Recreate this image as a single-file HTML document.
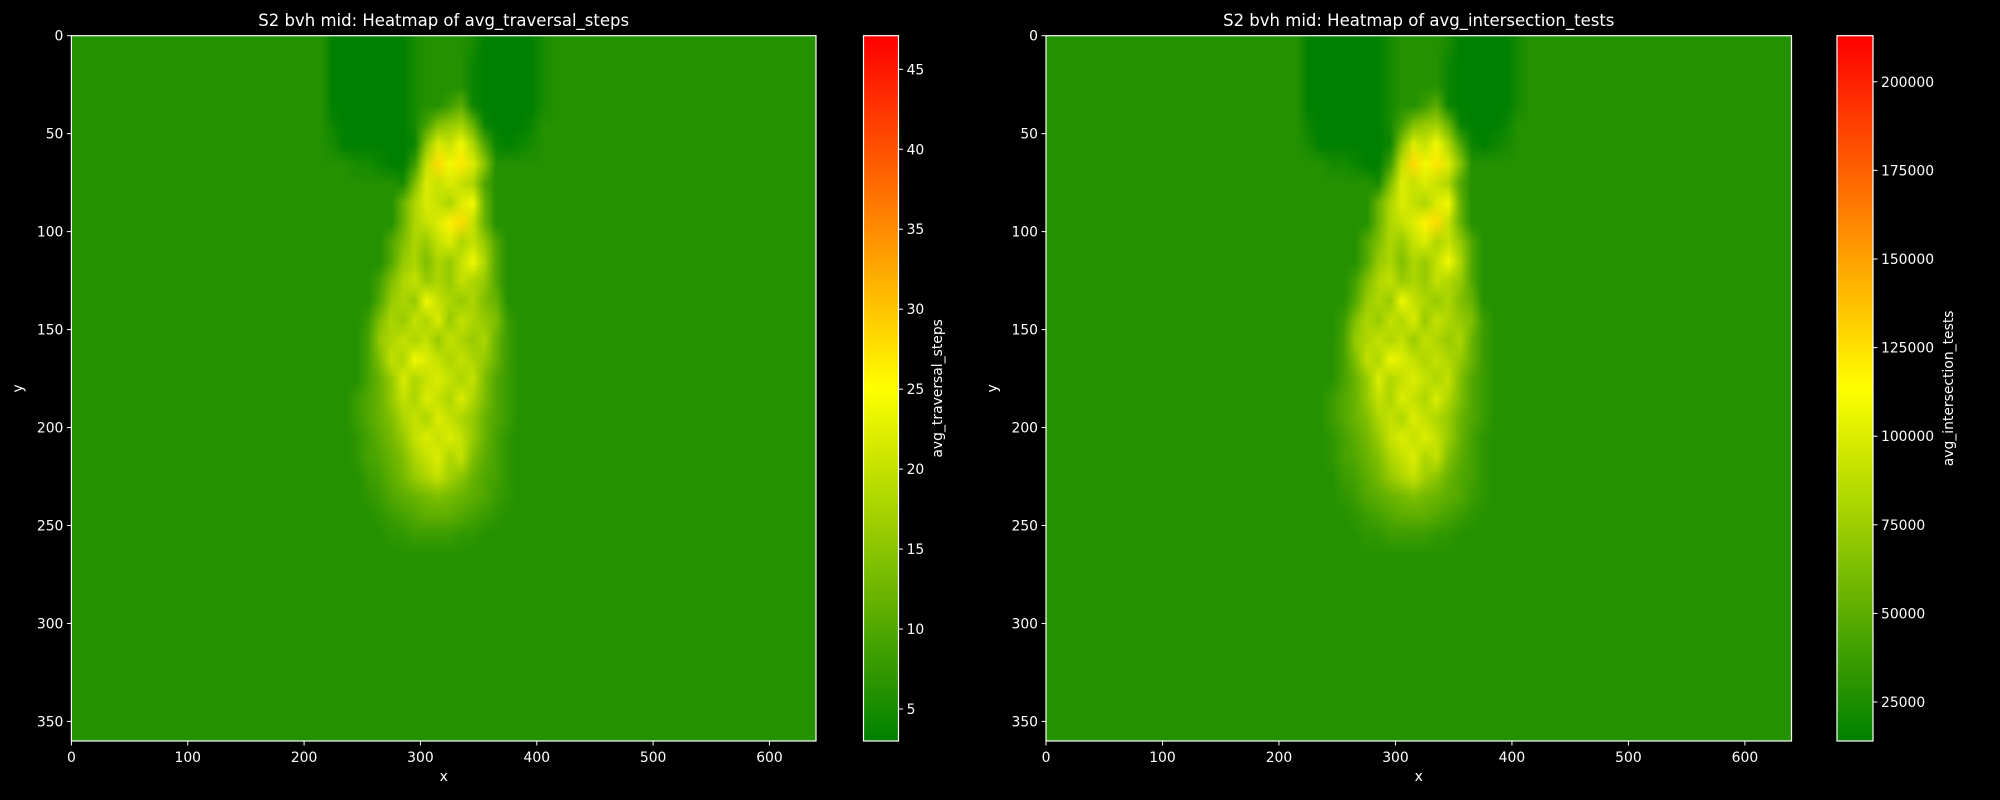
<!DOCTYPE html>
<html><head><meta charset="utf-8">
<style>
html,body{margin:0;padding:0;background:#000;}
#wrap{position:relative;width:2000px;height:800px;background:#000;overflow:hidden;font-family:"DejaVu Sans","Liberation Sans",sans-serif;}
canvas{position:absolute;}
svg{position:absolute;left:0;top:0;}
</style></head>
<body>
<div id="wrap">
<canvas id="hm1"></canvas>
<canvas id="cb1"></canvas>
<canvas id="hm2"></canvas>
<canvas id="cb2"></canvas>
<svg id="ov" width="2000" height="800"></svg>
</div>
<script>
// ---- data ----
const xTicks = [0,100,200,300,400,500,600];
const yTicks = [0,50,100,150,200,250,300,350];
const cbTicks1 = [5,10,15,20,25,30,35,40,45];
const cbTicks2 = [25000,50000,75000,100000,125000,150000,175000,200000];
const range1 = [3, 47.1];
const range2 = [14000, 213000];
const background1 = 6;
const background2k = 28; // thousands
// grid: columns start at x=210, 10-unit cells; rows start at y=0, 10-unit cells
const gridX0 = 210, gridY0 = 0, gridCell = 10;
const steps = [
[6,3,3,3,3,3,3,3,5,6,6,6,6,5,3,3,3,3,3,5],
[6,3,3,3,3,3,3,3,5,6,6,6,6,4,3,3,3,3,3,5],
[6,3,3,3,3,3,3,3,5,6,6,6,6,4,3,3,3,3,3,5],
[6,3,3,3,3,3,3,3,5,6,6,8,11,4,3,3,3,3,3,5],
[6,4,3,3,3,3,3,3,5,9,14,16,17,12,4,3,3,3,4,6],
[6,5,3,3,3,3,3,3,4,15,22,20,24,18,10,4,3,4,5,6],
[6,6,6,5,5,4,3,3,8,20,28,24,27,22,15,6,6,6,6,6],
[6,6,6,6,6,6,6,5,14,22,20,22,20,18,10,6,6,6,6,6],
[6,6,6,6,6,6,6,12,18,22,20,18,22,24,12,6,6,6,6,6],
[6,6,6,6,6,6,6,12,18,20,22,26,28,20,12,6,6,6,6,6],
[6,6,6,6,6,6,10,14,18,16,20,22,18,20,16,10,6,6,6,6],
[6,6,6,6,6,6,10,16,18,14,18,16,20,24,18,10,6,6,6,6],
[6,6,6,6,6,9,14,18,20,16,18,16,20,18,16,10,6,6,6,6],
[6,6,6,6,6,10,16,18,16,24,20,18,16,18,14,12,6,6,6,6],
[6,6,6,6,8,14,18,16,20,18,22,16,20,18,16,14,8,6,6,6],
[6,6,6,6,9,16,18,20,18,20,16,20,18,16,18,12,8,6,6,6],
[6,6,6,6,9,14,20,18,24,22,20,18,20,18,16,12,8,6,6,6],
[6,6,6,6,9,12,16,22,18,20,22,20,18,20,14,10,8,6,6,6],
[6,6,6,8,10,12,16,20,18,22,20,18,22,18,14,10,8,6,6,6],
[6,6,6,8,10,12,14,18,20,18,22,20,18,16,12,10,8,6,6,6],
[6,6,6,7,9,11,13,16,20,22,20,22,20,16,12,9,7,6,6,6],
[6,6,6,7,9,10,12,14,18,20,22,18,20,14,11,9,7,6,6,6],
[6,6,6,6,8,9,11,13,16,18,20,17,15,12,10,9,7,6,6,6],
[6,6,6,6,7,8,10,11,12,13,14,13,12,11,10,8,7,6,6,6],
[6,6,6,6,6,7,8,9,10,11,11,11,10,9,8,7,6,6,6,6],
[6,6,6,6,6,6,7,7,8,8,8,8,7,7,6,6,6,6,6,6]
];
// intersection tests, in thousands
const testsK = [
[28,14,14,14,14,14,14,14,23,28,28,28,28,23,14,14,14,14,14,23],
[28,14,14,14,14,14,14,14,23,28,28,28,28,19,14,14,14,14,14,23],
[28,14,14,14,14,14,14,14,23,28,28,28,28,19,14,14,14,14,14,23],
[28,14,14,14,14,14,14,14,23,28,28,37,50,19,14,14,14,14,14,23],
[28,19,14,14,14,14,14,14,23,41,64,73,77,55,19,14,14,14,19,28],
[28,23,14,14,14,14,14,14,19,68,100,91,109,82,46,19,14,19,23,28],
[28,28,28,23,23,19,14,14,37,91,127,109,123,100,68,28,28,28,28,28],
[28,28,28,28,28,28,28,23,64,100,91,100,91,82,46,28,28,28,28,28],
[28,28,28,28,28,28,28,55,82,100,91,82,100,109,55,28,28,28,28,28],
[28,28,28,28,28,28,28,55,82,91,100,118,127,91,55,28,28,28,28,28],
[28,28,28,28,28,28,46,64,82,73,91,100,82,91,73,46,28,28,28,28],
[28,28,28,28,28,28,46,73,82,64,82,73,91,109,82,46,28,28,28,28],
[28,28,28,28,28,41,64,82,91,73,82,73,91,82,73,46,28,28,28,28],
[28,28,28,28,28,46,73,82,73,109,91,82,73,82,64,55,28,28,28,28],
[28,28,28,28,37,64,82,73,91,82,100,73,91,82,73,64,37,28,28,28],
[28,28,28,28,41,73,82,91,82,91,73,91,82,73,82,55,37,28,28,28],
[28,28,28,28,41,64,91,82,109,100,91,82,91,82,73,55,37,28,28,28],
[28,28,28,28,41,55,73,100,82,91,100,91,82,91,64,46,37,28,28,28],
[28,28,28,37,46,55,73,91,82,100,91,82,100,82,64,46,37,28,28,28],
[28,28,28,37,46,55,64,82,91,82,100,91,82,73,55,46,37,28,28,28],
[28,28,28,32,41,50,59,73,91,100,91,100,91,73,55,41,32,28,28,28],
[28,28,28,32,41,46,55,64,82,91,100,82,91,64,50,41,32,28,28,28],
[28,28,28,28,37,41,50,59,73,82,91,77,68,55,46,41,32,28,28,28],
[28,28,28,28,32,37,46,50,55,59,64,59,55,50,46,37,32,28,28,28],
[28,28,28,28,28,32,37,41,46,50,50,50,46,41,37,32,28,28,28,28],
[28,28,28,28,28,28,32,32,37,37,37,37,32,32,28,28,28,28,28,28]
];

// ---- drawing ----
const NS = 'http://www.w3.org/2000/svg';
const ov = document.getElementById('ov');
function cmap(t){
  t = Math.max(0, Math.min(1, t));
  if (t < 0.5){ const u = t*2; return [Math.round(255*u), Math.round(128+127*u), 0]; }
  const u = (t-0.5)*2; return [255, Math.round(255*(1-u)), 0];
}
function svgEl(tag, attrs, name, text){
  const e = document.createElementNS(NS, tag);
  for (const k in attrs) e.setAttribute(k, attrs[k]);
  
  
  if (text !== undefined) e.textContent = text;
  ov.appendChild(e);
  return e;
}
function panel(p){
  const W = p.x1 - p.x0, H = p.y1 - p.y0;
  const sx = v => p.x0 + v / 640 * W;
  const sy = v => p.y0 + v / 360 * H;
  const norm = v => (v - p.range[0]) / (p.range[1] - p.range[0]);
  const off = document.createElement('canvas');
  off.width = 64; off.height = 36;
  const oc = off.getContext('2d');
  let c = cmap(norm(p.bg * p.mult));
  oc.fillStyle = `rgb(${c[0]},${c[1]},${c[2]})`;
  oc.fillRect(0, 0, 64, 36);
  p.grid.forEach((row, r) => row.forEach((v, k) => {
    const col = cmap(norm(v * p.mult));
    oc.fillStyle = `rgb(${col[0]},${col[1]},${col[2]})`;
    oc.fillRect((gridX0 + k*gridCell)/10, (gridY0 + r*gridCell)/10, gridCell/10, gridCell/10);
  }));
  const cv = document.getElementById(p.canvas);
  cv.width = Math.round(W); cv.height = Math.round(H);
  cv.style.left = p.x0 + 'px'; cv.style.top = p.y0 + 'px';
  const ctx = cv.getContext('2d');
  ctx.imageSmoothingEnabled = true;
  ctx.drawImage(off, 0, 0, cv.width, cv.height);
  const cb = document.getElementById(p.cbCanvas);
  const cbH = Math.round(p.y1 - p.y0), cbW = Math.round(p.cb1 - p.cb0);
  cb.width = cbW; cb.height = cbH;
  cb.style.left = p.cb0 + 'px'; cb.style.top = p.y0 + 'px';
  const cctx = cb.getContext('2d');
  for (let i = 0; i < cbH; i++){
    const col = cmap(1 - i / (cbH - 1));
    cctx.fillStyle = `rgb(${col[0]},${col[1]},${col[2]})`;
    cctx.fillRect(0, i, cbW, 1);
  }
  svgEl('rect', {x:p.x0, y:p.y0, width:W, height:H, fill:'none', stroke:'#fff', 'stroke-width':1.2}, p.key + '-axes-frame');
  svgEl('rect', {x:p.cb0, y:p.y0, width:cbW, height:H, fill:'none', stroke:'#fff', 'stroke-width':1.2}, p.key + '-colorbar-frame');
  svgEl('text', {x:(p.x0+p.x1)/2, y:26, fill:'#fff', 'font-size':16.5, 'text-anchor':'middle'}, p.key + '-title', p.title);
  xTicks.forEach(t => {
    const x = sx(t);
    svgEl('line', {x1:x, x2:x, y1:p.y1, y2:p.y1+4.5, stroke:'#fff', 'stroke-width':1}, p.key + '-x-tick');
    svgEl('text', {x:x, y:p.y1+21, fill:'#fff', 'font-size':13.9, 'text-anchor':'middle'}, p.key + '-x-tick-label', String(t));
  });
  yTicks.forEach(t => {
    const y = sy(t);
    svgEl('line', {x1:p.x0-4.5, x2:p.x0, y1:y, y2:y, stroke:'#fff', 'stroke-width':1}, p.key + '-y-tick');
    svgEl('text', {x:p.x0-8, y:y+5, fill:'#fff', 'font-size':13.9, 'text-anchor':'end'}, p.key + '-y-tick-label', String(t));
  });
  svgEl('text', {x:(p.x0+p.x1)/2, y:p.y1+40, fill:'#fff', 'font-size':13.9, 'text-anchor':'middle'}, p.key + '-x-axis-title', 'x');
  svgEl('text', {x:0, y:0, fill:'#fff', 'font-size':13.9, 'text-anchor':'middle', transform:`translate(${p.x0-49},${(p.y0+p.y1)/2}) rotate(-90)`}, p.key + '-y-axis-title', 'y');
  p.cbTicks.forEach(t => {
    const y = p.y1 - (t - p.range[0]) / (p.range[1] - p.range[0]) * H;
    svgEl('line', {x1:p.cb1, x2:p.cb1+4.5, y1:y, y2:y, stroke:'#fff', 'stroke-width':1}, p.key + '-colorbar-tick');
    svgEl('text', {x:p.cb1+8, y:y+5, fill:'#fff', 'font-size':13.9}, p.key + '-colorbar-tick-label', String(t));
  });
  svgEl('text', {x:0, y:0, fill:'#fff', 'font-size':13.9, 'text-anchor':'middle', transform:`translate(${p.cbLabelX},${(p.y0+p.y1)/2}) rotate(-90)`}, p.key + '-colorbar-title', p.cbLabel);
}
panel({key:'left', canvas:'hm1', cbCanvas:'cb1', x0:71.4, x1:816, y0:35.7, y1:741,
  cb0:863.5, cb1:898.6, grid:steps, bg:background1, mult:1, range:range1, cbTicks:cbTicks1,
  title:'S2 bvh mid: Heatmap of avg_traversal_steps', cbLabel:'avg_traversal_steps', cbLabelX:942});
panel({key:'right', canvas:'hm2', cbCanvas:'cb2', x0:1046, x1:1791.5, y0:35.7, y1:741,
  cb0:1837, cb1:1873, grid:testsK, bg:background2k, mult:1000, range:range2, cbTicks:cbTicks2,
  title:'S2 bvh mid: Heatmap of avg_intersection_tests', cbLabel:'avg_intersection_tests', cbLabelX:1953});
</script>
</body></html>
